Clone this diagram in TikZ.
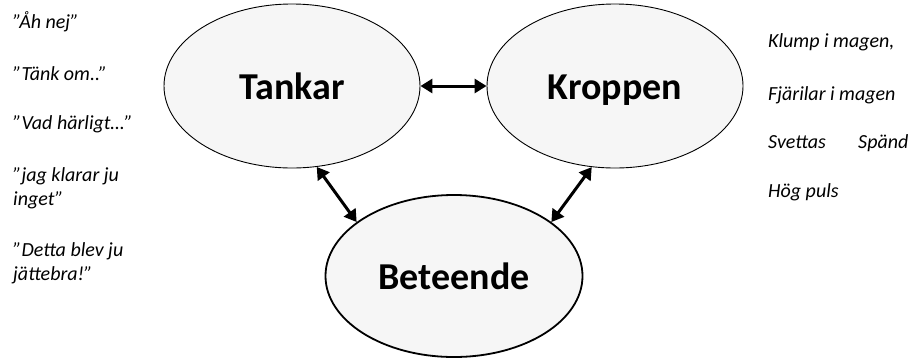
\documentclass[tikz,border=0pt]{standalone}
\usepackage{fontspec}
\setmainfont{Carlito}
\usetikzlibrary{arrows.meta,shapes.geometric}

\begin{document}
\begin{tikzpicture}[x=1pt,y=-1pt,
  bubble/.style={ellipse,draw=black,fill=gray!7,inner sep=0pt,
    minimum width=256pt,minimum height=164pt,text height=26pt,text depth=0pt,
    font=\fontsize{38}{40}\selectfont\bfseries},
  link/.style={line width=3pt,{Triangle[length=12pt,width=14pt]}-{Triangle[length=12pt,width=14pt]}},
  note/.style={anchor=base west,inner sep=0pt,align=left,
    font=\fontsize{20}{23.5}\selectfont\itshape}]
  \useasboundingbox (0,0) rectangle (912,357);

  % the three circles of the model
  \node[bubble,line width=0.9pt] (tankar) at (292,86) {Tankar};
  \node[bubble,line width=0.9pt] (kroppen) at (615,86) {Kroppen};
  \node[bubble,line width=1.8pt,minimum width=257pt,minimum height=162pt] (beteende) at (454,276) {Beteende};

  % two-way links between them
  \draw[link] (tankar.east) -- (kroppen.west);
  \draw[link] (tankar.-73.5) -- (beteende.151);
  \draw[link] (kroppen.-106.5) -- (beteende.29);

  % thoughts (base anchor sits on the last line)
  \node[note] (t1) at (13,28) {”Åh nej”};
  \node[note] (t2) at (13,80) {”Tänk om..”};
  \node[note] (t3) at (13,129) {”Vad härligt…”};
  \node[note] (t4) at (13,205) {”jag klarar ju\\inget”};
  \node[note] (t5) at (13,280) {”Detta blev ju\\jättebra!”};

  % body reactions
  \node[note] (k1) at (768,47) {Klump i magen,};
  \node[note] (k2) at (768,100) {Fjärilar i magen};
  \node[note] (k3) at (768,148) {Svettas};
  \node[note] (k4) at (858,148) {Spänd};
  \node[note] (k5) at (768,197) {Hög puls};
\end{tikzpicture}
\end{document}
